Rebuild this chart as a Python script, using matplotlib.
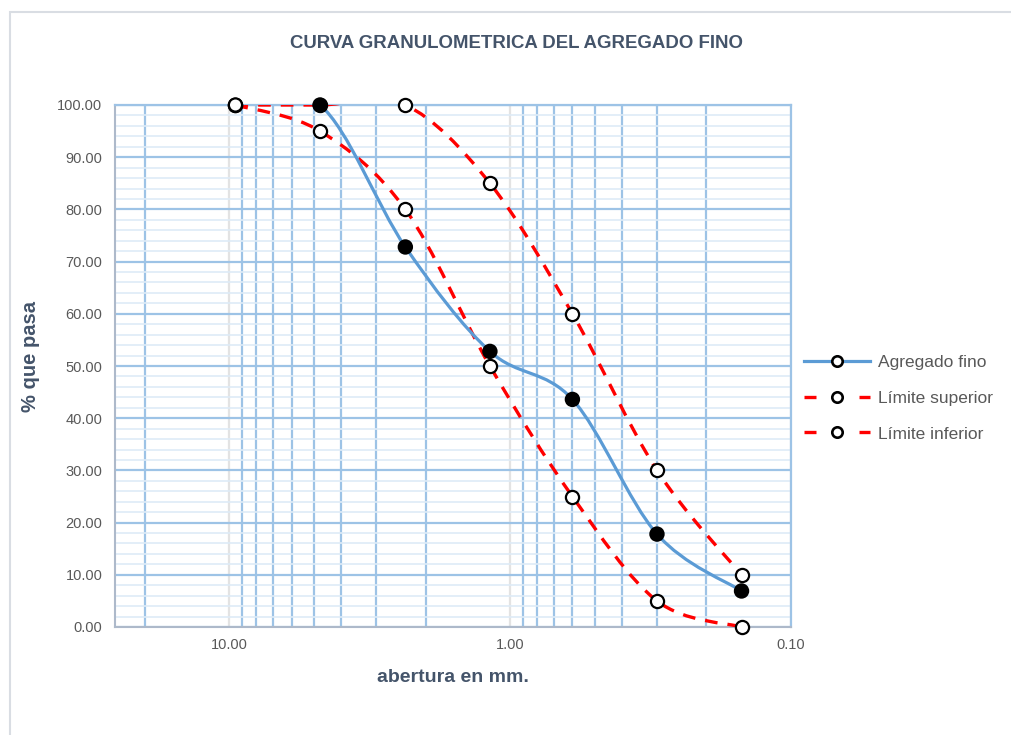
import numpy as np
import matplotlib
matplotlib.use('Agg')
import matplotlib.pyplot as plt
from matplotlib.path import Path
from matplotlib.patches import PathPatch, Rectangle
from matplotlib.lines import Line2D
from matplotlib.ticker import FixedLocator, MultipleLocator, FuncFormatter

plt.rcParams['font.family'] = ['Liberation Sans', 'DejaVu Sans']

# Sieve openings (mm) and % passing
aberturas = [9.5, 4.75, 2.36, 1.18, 0.6, 0.3, 0.15]
agregado_fino = [100.0, 100.0, 72.8, 52.8, 43.6, 17.8, 6.9]
fino_relleno = [False, True, True, True, True, True, True]
limite_superior = [100.0, 100.0, 100.0, 85.0, 60.0, 30.0, 10.0]
limite_inferior = [100.0, 95.0, 80.0, 50.0, 25.0, 5.0, 0.0]

nombres = ['Agregado fino', 'Límite superior', 'Límite inferior']

azul = '#5b9bd5'
rojo = '#ff0000'
texto = '#595959'
titulo_color = '#44546a'


def curva_suave(xs, ys):
    # smoothed line like a spreadsheet chart: bezier segments in log-x space
    pts = np.column_stack([np.log10(xs), ys])
    n = len(pts)
    verts = [pts[0]]
    codes = [Path.MOVETO]
    for i in range(n - 1):
        p_prev = pts[max(i - 1, 0)]
        p_next = pts[min(i + 2, n - 1)]
        c1 = pts[i] + (pts[i + 1] - p_prev) / 6.0
        c2 = pts[i + 1] - (p_next - pts[i]) / 6.0
        verts += [c1, c2, pts[i + 1]]
        codes += [Path.CURVE4] * 3
    verts = np.array(verts)
    verts[:, 0] = 10 ** verts[:, 0]
    return Path(verts, codes)


fig = plt.figure(figsize=(10.11, 7.35), dpi=100)
fig.patch.set_facecolor('white')
fig.patches.append(Rectangle((10 / 1011, -0.1), 1.2, 1.1 - 12 / 735,
                             transform=fig.transFigure, fill=False,
                             edgecolor='#d9dde3', linewidth=1.5))

ax = fig.add_axes([115 / 1011, 1 - 627 / 735, (791 - 115) / 1011, (627 - 105) / 735])
ax.set_xscale('log')
ax.set_xlim(25.5, 0.1)
ax.set_ylim(0, 100)

ax.xaxis.set_major_locator(FixedLocator([10, 1, 0.1]))
minors = [m * d for d in [0.1, 1, 10] for m in range(2, 10)]
ax.xaxis.set_minor_locator(FixedLocator(minors))
ax.xaxis.set_major_formatter(FuncFormatter(lambda v, p: f'{v:.2f}'))
ax.xaxis.set_minor_formatter(FuncFormatter(lambda v, p: ''))
ax.yaxis.set_major_locator(MultipleLocator(10))
ax.yaxis.set_minor_locator(MultipleLocator(2))
ax.yaxis.set_major_formatter(FuncFormatter(lambda v, p: f'{v:.2f}'))

ax.grid(axis='y', which='minor', color='#deebf7', linewidth=1.2, zorder=0)
ax.grid(axis='y', which='major', color='#9dc3e6', linewidth=1.6, zorder=0)
ax.grid(axis='x', which='minor', color='#9dc3e6', linewidth=1.6, zorder=0)
ax.grid(axis='x', which='major', color='#e3e3e3', linewidth=1.6, zorder=0)
ax.set_axisbelow(True)

ax.tick_params(which='both', length=0)
ax.tick_params(axis='both', labelsize=10.5, colors=texto)
ax.tick_params(axis='x', pad=8)
ax.tick_params(axis='y', pad=9)

for s in ['left', 'bottom']:
    ax.spines[s].set_color('#adb9ca')
    ax.spines[s].set_linewidth(1.5)
for s in ['right', 'top']:
    ax.spines[s].set_color('#9dc3e6')
    ax.spines[s].set_linewidth(1.6)

# limits (dashed red) and the aggregate curve (solid blue)
for serie in [limite_superior, limite_inferior]:
    ax.add_patch(PathPatch(curva_suave(aberturas, serie), fill=False,
                           edgecolor=rojo, linewidth=2.4,
                           linestyle=(0, (3.8, 3)), zorder=3))
ax.add_patch(PathPatch(curva_suave(aberturas, agregado_fino), fill=False,
                       edgecolor=azul, linewidth=2.3, zorder=4))

ax.scatter(aberturas, limite_superior, s=90, facecolors='white',
           edgecolors='black', linewidths=1.6, zorder=5, clip_on=False)
ax.scatter(aberturas, limite_inferior, s=90, facecolors='white',
           edgecolors='black', linewidths=1.6, zorder=5, clip_on=False)
ax.scatter(aberturas, agregado_fino, s=90,
           facecolors=['black' if f else 'white' for f in fino_relleno],
           edgecolors='black', linewidths=1.6, zorder=6, clip_on=False)

ax.set_xlabel('abertura en mm.', fontsize=14, fontweight='bold', color=titulo_color)
ax.xaxis.set_label_coords(0.5, -(678 - 627) / 522)
ax.xaxis.label.set_va('center')
ax.set_ylabel('% que pasa', fontsize=14.5, fontweight='bold', color=titulo_color)
ax.yaxis.set_label_coords(-(115 - 30) / 676, (627 - 357) / 522)
ax.yaxis.label.set_va('center')

fig.text(517 / 1011, 1 - 43 / 735, 'CURVA GRANULOMETRICA DEL AGREGADO FINO',
         ha='center', va='center', fontsize=13.4, fontweight='bold', color=titulo_color)

handles = [
    Line2D([], [], color=azul, linewidth=2.3, marker='o', markersize=7.5,
           markerfacecolor='white', markeredgecolor='black', markeredgewidth=1.9),
    Line2D([], [], color=rojo, linewidth=2.4, linestyle=(0, (3.6, 12.9)), marker='o',
           markersize=7.5, markerfacecolor='white', markeredgecolor='black', markeredgewidth=1.9),
    Line2D([], [], color=rojo, linewidth=2.4, linestyle=(0, (3.6, 12.9)), marker='o',
           markersize=7.5, markerfacecolor='white', markeredgecolor='black', markeredgewidth=1.9),
]
leg = fig.legend(handles, nombres, loc='center left',
                 bbox_to_anchor=(788 / 1011, 1 - 398 / 735), frameon=False,
                 fontsize=12.5, handlelength=3.85, labelspacing=1.2,
                 handletextpad=0.45, labelcolor=texto)

fig.savefig('out.png', dpi=100)
